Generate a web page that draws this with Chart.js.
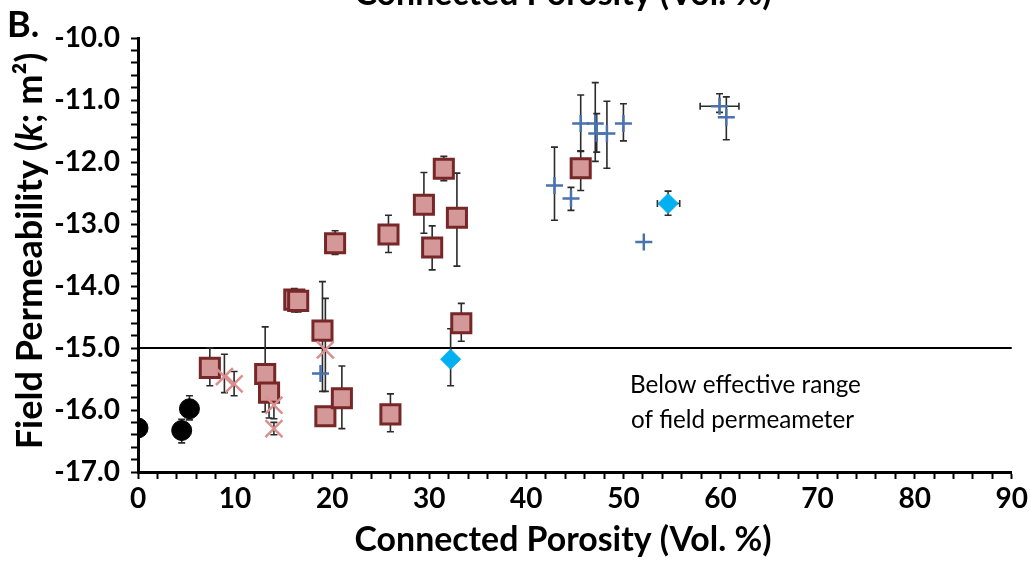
<!DOCTYPE html>
<html><head><meta charset="utf-8">
<script src="https://cdn.jsdelivr.net/npm/chart.js@4.4.0/dist/chart.umd.min.js"></script>
<style>html,body{margin:0;padding:0;background:#fff;}#wrap{width:1031px;height:565px;position:relative;}</style>
</head><body><div id="wrap"><canvas id="c" width="1031" height="565"></canvas></div>
<script>
const FAMILY = 'Lato, "Open Sans", sans-serif';

// ---- Data (x = connected porosity %, y = log10 permeability) ----
const circleX   = [0, 4.5, 5.3];
const circleY   = [-16.29, -16.33, -15.98];
const circleLo  = [null, -16.53, -16.16];
const circleHi  = [null, -16.15, -15.77];

const squareX   = [7.4, 13.1, 13.5, 16.1, 16.5, 19.0, 19.3, 20.3, 21.0, 25.8, 26.0, 29.45, 30.3, 31.5, 32.85, 33.3, 45.6];
const squareY   = [-15.32, -15.42, -15.72, -14.22, -14.24, -14.72, -16.10, -13.31, -15.81, -13.17, -16.07, -12.69, -13.38, -12.11, -12.90, -14.60, -12.10];
const squareLo  = [-15.61, -16.03, -16.13, -14.42, -14.42, -15.70, null, -13.49, -16.30, -13.46, -16.35, -13.15, -13.74, -12.30, -13.68, -14.89, -12.46];
const squareHi  = [-15.00, -14.66, -15.60, -14.04, -14.06, -13.93, null, -13.11, -15.29, -12.86, -15.74, -12.17, -13.03, -11.91, -12.18, -14.28, -11.82];
const squareXLo = [null, null, null, null, null, null, null, null, null, null, 25.6, null, null, null, null, null, null];
const squareXHi = [null, null, null, null, null, null, null, null, null, null, 26.4, null, null, null, null, null, null];

const starX     = [8.9, 9.9, 14.0, 14.0, 19.3];
const starY     = [-15.46, -15.58, -15.92, -16.30, -15.03];
const starLo    = [-15.72, -15.77, -16.14, -16.40, -15.70];
const starHi    = [-15.10, -15.38, -15.75, -16.20, -14.20];

const plusX     = [18.8, 42.9, 44.6, 45.6, 47.1, 47.25, 48.3, 50.0, 52.1, 59.9, 60.6];
const plusY     = [-15.41, -12.38, -12.59, -11.38, -11.38, -11.54, -11.54, -11.38, -13.29, -11.10, -11.28];
const plusLo    = [null, -12.94, -12.78, -11.83, -11.99, -11.84, -12.10, -11.66, null, -11.20, -11.64];
const plusHi    = [null, -11.76, -12.41, -10.92, -10.72, -11.22, -11.02, -11.06, null, -10.90, -10.95];
const plusXLo   = [null, null, null, null, null, null, null, null, null, 57.9, null];
const plusXHi   = [null, null, null, null, null, null, null, null, null, 61.9, null];

const diamondX  = [32.2, 54.6];
const diamondY  = [-15.18, -12.67];
const diamondLo = [-15.61, -12.86];
const diamondHi = [-14.69, -12.47];
const diamondXLo = [null, 53.5];
const diamondXHi = [null, 55.8];

const thresholdValue = -15;
const xTickStep = 2, xLabelStep = 10, xMin = 0, xMax = 90;
const yTickStep = 0.2, yMin = -17, yMax = -10;

const panelLabel = 'B.';
const xTitle = 'Connected Porosity (Vol. %)';
const yTitleParts = ['Field Permeability (', 'k', '; m²)'];
const noteLines = ['Below effective range', 'of field permeameter'];

function pts(xs, ys){ return xs.map((x,i)=>({x:x, y:ys[i]})); }

const errorBars = {
  id:'errorBars',
  beforeDatasetsDraw(chart){
    const ctx = chart.ctx, xs = chart.scales.x, ys = chart.scales.y, ca = chart.chartArea;
    ctx.save();
    // threshold line
    ctx.strokeStyle = '#000'; ctx.lineWidth = 2;
    const ty = ys.getPixelForValue(thresholdValue);
    ctx.beginPath(); ctx.moveTo(ca.left, ty); ctx.lineTo(ca.right, ty); ctx.stroke();
    ctx.strokeStyle = '#2b2b2b'; ctx.lineWidth = 1.6;
    const cap = 3.5;
    chart.data.datasets.forEach(ds => {
      ds.data.forEach((p,i) => {
        const px = xs.getPixelForValue(p.x), py = ys.getPixelForValue(p.y);
        if (ds.errLo && ds.errLo[i] != null) {
          const y1 = ys.getPixelForValue(ds.errLo[i]), y2 = ys.getPixelForValue(ds.errHi[i]);
          ctx.beginPath();
          ctx.moveTo(px, y1); ctx.lineTo(px, y2);
          ctx.moveTo(px-cap, y1); ctx.lineTo(px+cap, y1);
          ctx.moveTo(px-cap, y2); ctx.lineTo(px+cap, y2);
          ctx.stroke();
        }
        if (ds.xErrLo && ds.xErrLo[i] != null) {
          const x1 = xs.getPixelForValue(ds.xErrLo[i]), x2 = xs.getPixelForValue(ds.xErrHi[i]);
          ctx.beginPath();
          ctx.moveTo(x1, py); ctx.lineTo(x2, py);
          ctx.moveTo(x1, py-cap); ctx.lineTo(x1, py+cap);
          ctx.moveTo(x2, py-cap); ctx.lineTo(x2, py+cap);
          ctx.stroke();
        }
      });
    });
    ctx.restore();
  }
};

function fitSize(ctx, text, style, target){
  ctx.font = style + ' 100px ' + FAMILY;
  return 100 * target / ctx.measureText(text).width;
}

const texts = {
  id:'texts',
  afterDraw(chart){
    const ctx = chart.ctx;
    ctx.save();
    ctx.fillStyle = '#000';
    ctx.textBaseline = 'alphabetic';
    // panel label
    ctx.textAlign = 'left';
    ctx.font = 'bold 36px ' + FAMILY;
    ctx.fillText(panelLabel, 7, 37);
    // x title
    let s = fitSize(ctx, xTitle, 'bold', 417);
    ctx.font = 'bold ' + s + 'px ' + FAMILY;
    ctx.textAlign = 'center';
    ctx.fillText(xTitle, 563, 551);
    // cut-off heading at the top
    ctx.fillText(xTitle, 563, 5);
    // y title with italic k
    const full = yTitleParts.join('');
    let ys = fitSize(ctx, full, 'bold', 398);
    const fonts = ['bold ', 'italic bold ', 'bold '].map(f => f + ys + 'px ' + FAMILY);
    let widths = yTitleParts.map((t,i)=>{ ctx.font = fonts[i]; return ctx.measureText(t).width; });
    const total = widths.reduce((a,b)=>a+b,0);
    ctx.translate(42, 251);
    ctx.rotate(-Math.PI/2);
    ctx.textAlign = 'left';
    let cx = -total/2;
    yTitleParts.forEach((t,i)=>{ ctx.font = fonts[i]; ctx.fillText(t, cx, 0); cx += widths[i]; });
    ctx.setTransform(1,0,0,1,0,0);
    // note
    let ns = fitSize(ctx, noteLines[0], 'normal', 231);
    ctx.font = 'normal ' + ns + 'px ' + FAMILY;
    ctx.textAlign = 'left';
    ctx.fillText(noteLines[0], 630, 393);
    ctx.fillText(noteLines[1], 631, 428);
    ctx.restore();
  }
};

const ctx = document.getElementById('c').getContext('2d');
new Chart(ctx, {
  type:'scatter',
  data:{ datasets:[
    { label:'circles', data:pts(circleX, circleY), errLo:circleLo, errHi:circleHi,
      pointStyle:'circle', pointRadius:10, backgroundColor:'#000', borderColor:'#000', borderWidth:1 },
    { label:'diamonds', data:pts(diamondX, diamondY), errLo:diamondLo, errHi:diamondHi, xErrLo:diamondXLo, xErrHi:diamondXHi,
      pointStyle:'rectRot', pointRadius:10, backgroundColor:'#00b0f0', borderColor:'#00b0f0', borderWidth:1 },
    { label:'plus', data:pts(plusX, plusY), errLo:plusLo, errHi:plusHi, xErrLo:plusXLo, xErrHi:plusXHi,
      pointStyle:'cross', pointRadius:8.5, backgroundColor:'#4a72ad', borderColor:'#4a72ad', borderWidth:2.5 },
    { label:'stars', data:pts(starX, starY), errLo:starLo, errHi:starHi,
      pointStyle:'crossRot', pointRadius:12, backgroundColor:'#d9908f', borderColor:'#d9908f', borderWidth:2.5 },
    { label:'squares', data:pts(squareX, squareY), errLo:squareLo, errHi:squareHi, xErrLo:squareXLo, xErrHi:squareXHi,
      pointStyle:'rect', pointRadius:13.5, backgroundColor:'#d49898', borderColor:'#772727', borderWidth:3 }
  ]},
  options:{
    responsive:false, animation:false, devicePixelRatio:1,
    layout:{ padding:{ top:38, right:18, left:0, bottom:0 } },
    plugins:{ legend:{display:false}, tooltip:{enabled:false} },
    scales:{
      x:{ type:'linear', min:xMin, max:xMax,
        afterFit(s){ s.height = 93; },
        border:{ display:true, color:'#000', width:3 },
        grid:{ drawOnChartArea:false, drawTicks:true, tickLength:7, tickWidth:2, tickColor:'#000' },
        ticks:{ stepSize:xTickStep, autoSkip:false, maxRotation:0, padding:3, color:'#000',
          font:{ family:FAMILY, size:28, weight:'bold' },
          callback(v){ return Math.abs(v/xLabelStep - Math.round(v/xLabelStep)) < 1e-6 ? String(Math.round(v)) : ''; } }
      },
      y:{ type:'linear', min:yMin, max:yMax,
        afterFit(s){ s.width = 138; },
        border:{ display:true, color:'#000', width:3 },
        grid:{ drawOnChartArea:false, drawTicks:true, tickLength:7, tickWidth:2, tickColor:'#000' },
        ticks:{ stepSize:yTickStep, autoSkip:false, padding:11, color:'#000',
          font:{ family:FAMILY, size:28, weight:'bold' },
          callback(v){ return Math.abs(v - Math.round(v)) < 1e-6 ? Math.round(v).toFixed(1) : ''; } }
      }
    }
  },
  plugins:[errorBars, texts]
});
</script></body></html>
